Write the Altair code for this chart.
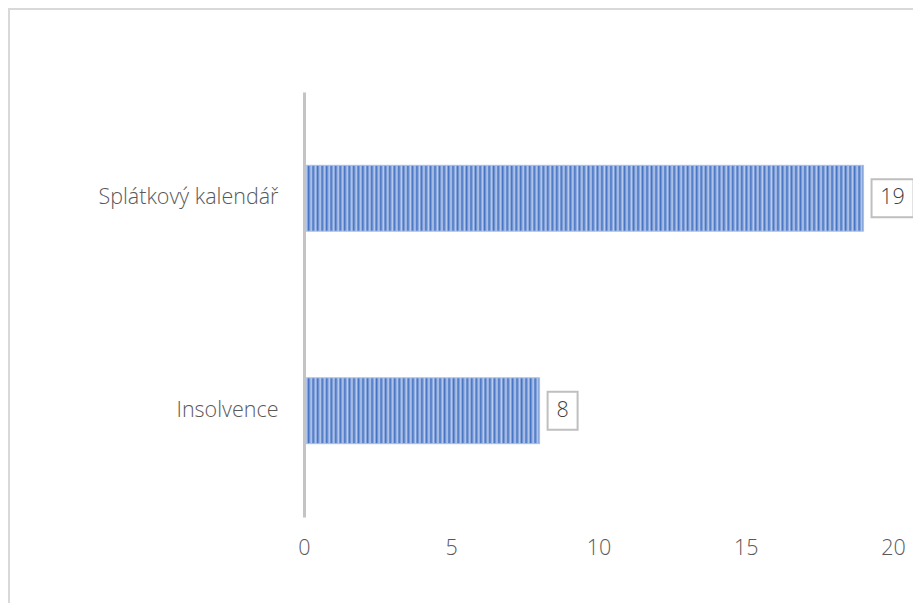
import altair as alt
import pandas as pd

# ---- data ----
categories = ["Splátkový kalendář", "Insolvence"]
values = [19, 8]
x_ticks = [0, 5, 10, 15, 20]

df = pd.DataFrame({"kategorie": categories, "pocet": values})

W, H = 589, 425
X_MAX = 20
PERIOD = 4.5
DARK = "#4472c4"
LIGHT = "#bccdec"
FONT = "Open Sans"
FS = 21.5


def stripes(v):
    n = max(1, round(v / X_MAX * W / PERIOD))
    stops = []
    for k in range(n):
        stops.append({"offset": k / n, "color": DARK})
        stops.append({"offset": (k + 0.6) / n, "color": LIGHT})
    stops.append({"offset": 1, "color": DARK})
    return {"gradient": "linear", "x1": 0, "x2": 1, "y1": 0, "y2": 0, "stops": stops}


x_enc = alt.X(
    "pocet:Q",
    scale=alt.Scale(domain=[0, X_MAX], nice=False, zero=True),
    axis=alt.Axis(values=x_ticks, title=None, grid=False, domain=False, ticks=False,
                  labelPadding=20, labelFontSize=FS, labelColor="#595959",
                  labelFont=FONT, labelFontWeight=300, labelFlush=False, format="d"),
)
y_enc = alt.Y(
    "kategorie:N",
    sort=categories,
    scale=alt.Scale(paddingInner=0.69, paddingOuter=0.345),
    axis=alt.Axis(title=None, ticks=False, grid=False, domainColor="#c4c4c4", domainWidth=3,
                  labelPadding=26, labelFontSize=FS, labelColor="#595959", labelLimit=500,
                  labelFont=FONT, labelFontWeight=300, zindex=1),
)

frame = alt.Chart(pd.DataFrame({"f": [0]})).mark_rect(
    filled=False, stroke="#d9d9d9", strokeWidth=2
).encode(
    x=alt.value(-295), x2=alt.value(W + 40), y=alt.value(-83), y2=alt.value(H + 120)
)

layers = [frame]
for cat, v in zip(categories, values):
    w = 18 + 12 * len(str(v))
    base = alt.Chart(df).transform_filter(alt.datum.kategorie == cat)
    bar = base.mark_bar(fill=stripes(v), stroke="#a9bfe6", strokeWidth=1).encode(x=x_enc, y=y_enc)
    box = base.mark_rect(
        fill="white", stroke="#bfbfbf", strokeWidth=2, height=38, xOffset=8, x2Offset=8 + w
    ).encode(x=x_enc, x2=alt.X2("pocet:Q"), y=y_enc)
    txt = base.mark_text(
        dx=8 + w / 2, fontSize=FS, color="#404040", font=FONT, fontWeight=300,
        baseline="middle", align="center"
    ).encode(x=x_enc, y=y_enc, text="pocet:Q")
    layers += [bar, box, txt]

chart = alt.layer(*layers).properties(
    width=W,
    height=H,
    padding={"left": 296, "top": 84, "right": 20, "bottom": 86},
    autosize=alt.AutoSizeParams(type="none"),
    background="white",
).configure_view(stroke=None)

chart.save("out.html", embed_options={"renderer": "svg", "actions": False})
